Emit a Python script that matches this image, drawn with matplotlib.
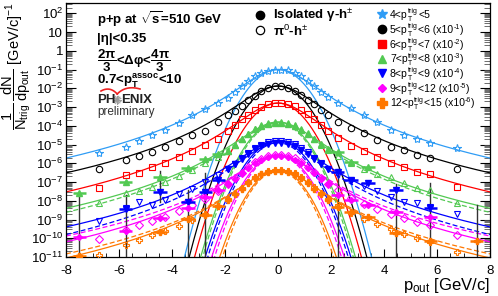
import numpy as np
import matplotlib
matplotlib.use("Agg")
import matplotlib.pyplot as plt
from matplotlib.ticker import LogLocator, FuncFormatter, MultipleLocator, NullFormatter

plt.rcParams['font.family'] = ['Liberation Sans', 'DejaVu Sans']
plt.rcParams['mathtext.fontset'] = 'custom'
plt.rcParams['mathtext.rm'] = 'Liberation Sans'
plt.rcParams['mathtext.it'] = 'Liberation Sans'
plt.rcParams['mathtext.bf'] = 'Liberation Sans:bold'
plt.rcParams['mathtext.sf'] = 'Liberation Sans'
plt.rcParams['axes.unicode_minus'] = False

# ---------------- data (log10 of 1/Ntrig dN/dpout, scaled) ----------------
trig_lo = ["4", "5", "6", "7", "8", "9", "12"]
trig_hi = ["5", "6", "7", "8", "9", "12", "15"]
scale_exp = ["", "-1", "-2", "-3", "-4", "-5", "-6"]

pout_pi0 = [-6.75, -5.75, -5.25, -4.75, -4.25, -3.75, -3.25, -2.75, -2.25, -1.875, -1.625,
            -1.375, -1.125, -0.875, -0.625, -0.375, -0.125, 0.125, 0.375, 0.625, 0.875,
            1.125, 1.375, 1.625, 1.875, 2.25, 2.75, 3.25, 3.75, 4.25, 4.75, 5.25, 5.75, 6.75]

pi0_4_5 = [-5.45, -5.13, -4.81, -4.49, -4.25, -3.85, -3.45, -3.10, -2.80, -2.50, -2.22, -1.90, -1.62, -1.35, -1.17, -1.06, -1.01,
           -1.00, -1.05, -1.16, -1.36, -1.62, -1.88, -2.22, -2.47, -2.79, -3.06, -3.43, -3.80, -4.23, -4.49, -4.71, -4.92, -5.19]
pi0_5_6 = [-6.31, -5.83, -5.61, -5.40, -5.13, -4.81, -4.49, -4.28, -3.78, -3.45, -3.20, -2.95, -2.65, -2.40, -2.17, -1.98, -1.89,
           -1.89, -1.97, -2.12, -2.35, -2.60, -2.85, -3.15, -3.45, -3.80, -4.12, -4.39, -4.76, -5.13, -5.29, -5.56, -5.72, -6.31]
pi0_6_7 = [-7.32, -6.63, -6.52, -6.20, -5.99, -5.67, -5.35, -5.05, -4.70, -4.30, -3.98, -3.65, -3.40, -3.16, -2.98, -2.85, -2.80,
           -2.79, -2.84, -2.97, -3.15, -3.38, -3.62, -3.95, -4.30, -4.65, -5.10, -5.35, -5.65, -5.99, -6.20, -6.47, -6.57, -7.27]
pi0_7_8 = [-8.12, -7.60, -7.50, -7.25, -6.98, -6.70, -6.35, -6.00, -5.65, -5.32, -5.02, -4.72, -4.42, -4.15, -3.98, -3.86, -3.81,
           -3.80, -3.85, -3.97, -4.16, -4.40, -4.70, -5.00, -5.30, -5.62, -6.00, -6.30, -6.55, -6.73, -7.05, -7.30, -7.45, -8.12]
pi0_8_9 = [-9.08, -8.40, -8.05, -8.20, -7.95, -7.65, -7.35, -7.00, -6.65, -6.32, -6.03, -5.72, -5.43, -5.17, -5.00, -4.87, -4.82,
           -4.81, -4.86, -4.98, -5.16, -5.42, -5.70, -6.00, -6.30, -6.60, -6.95, -7.20, -7.50, -7.80, -8.05, -8.12, -8.35, -8.70]
pi0_9_12 = [-10.04, -9.55, -9.30, -9.10, -8.85, -8.55, -8.25, -7.90, -7.50, -7.10, -6.80, -6.50, -6.20, -5.93, -5.75, -5.62, -5.57,
            -5.56, -5.61, -5.73, -5.92, -6.18, -6.48, -6.78, -7.08, -7.45, -7.85, -8.15, -8.45, -8.70, -8.90, -9.15, -9.30, -9.85]
pi0_12_15 = [-10.90, -10.35, -10.10, -9.85, -9.60, -9.35, -9.05, -8.70, -8.30, -7.92, -7.62, -7.32, -7.02, -6.75, -6.55, -6.42, -6.37,
             -6.36, -6.41, -6.53, -6.72, -6.98, -7.28, -7.58, -7.88, -8.25, -8.65, -8.95, -9.25, -9.50, -9.75, -10.00, -10.20, -10.75]

pout_iso = [-7.5, -5.75, -4.45, -3.4, -2.75, -2.25, -1.875, -1.625, -1.375, -1.125, -0.875, -0.625, -0.375, -0.125,
            0.125, 0.375, 0.625, 0.875, 1.125, 1.375, 1.625, 1.875, 2.25, 2.75, 3.4, 4.45, 5.75, 7.5]
pout_iso_halfwidth = [0.25, 0.25, 0.25, 0.25, 0.25, 0.25] + [0.0] * 16 + [0.25, 0.25, 0.25, 0.25, 0.25, 0.25]

nan = float('nan')
iso_7_8 = [-7.59, -7.00, -6.73, -6.25, -5.75, -5.50, -5.35, -5.00, -4.70, -4.43, -4.18, -4.00, -3.90, -3.86,
           -3.86, -3.91, -4.02, -4.20, -4.44, -4.70, -4.97, -5.25, -5.40, -5.93, -6.20, nan, nan, nan]
iso_8_9 = [nan, -8.44, -7.53, -8.07, -7.53, -6.90, -6.30, -6.02, -5.75, -5.50, -5.25, -5.07, -4.95, -4.90,
           -4.90, -4.95, -5.08, -5.27, -5.52, -5.78, -6.05, -6.30, -6.47, -6.89, -7.05, -7.43, -8.39, nan]
iso_9_12 = [-9.93, -9.60, -8.90, -8.39, -7.80, -7.40, -7.10, -6.82, -6.52, -6.25, -6.00, -5.80, -5.67, -5.62,
            -5.62, -5.67, -5.80, -6.00, -6.25, -6.53, -6.83, -7.12, -7.69, -7.96, -8.20, -8.60, -8.87, nan]
iso_12_15 = [-10.95, nan, -9.67, -8.97, -8.76, -8.30, -7.95, -7.65, -7.35, -7.05, -6.78, -6.58, -6.45, -6.40,
             -6.40, -6.45, -6.58, -6.78, -7.05, -7.35, -7.65, -7.95, -8.33, -8.60, -8.87, -9.72, -10.15, -10.15]

# large statistical error bars (log10 top / bottom) on isolated-photon tail points
err_x = [-7.5, -5.75, -4.45, -4.45, -3.4, -2.75, 2.25, 4.45, 5.75, 7.5]
err_top = [-7.75, -7.70, -6.40, -7.20, -7.43, -6.52, -6.30, -7.10, -7.05, -8.23]
err_bottom = [-12, -12, -7.20, -8.05, -12, -12, -12, -12, -12, -12]

# fit parameters: Kaplan (solid) and Gaussian for pi0-h, dashed for isolated gamma-h
kap_logA = [-1.00, -1.88, -2.79, -3.80, -4.81, -5.56, -6.36]
kap_c = [2.0, 2.0, 2.0, 2.0, 2.0, 2.0, 2.0]
kap_n = [3.11, 3.05, 3.12, 3.03, 3.02, 3.05, 3.09]
gau_sigma = [0.520, 0.517, 0.512, 0.507, 0.515, 0.500, 0.476]
iso_logA = [-3.85, -4.90, -5.60, -6.40]
iso_n = [3.14, 3.23, 2.82, 2.92]
iso_sigma = [0.495, 0.500, 0.480, 0.455]

colors = ['#2f9cf5', 'black', '#ff0000', '#52c952', '#0000ff', '#ff00ff', '#ff7700']
open_markers = ['*', 'o', 's', '^', 'v', 'D', 'P']
open_sizes = [6.0, 4.6, 4.6, 4.8, 4.8, 3.6, 5.0]
iso_markers = ['^', 'v', 'D', 'P']
iso_sizes = [4.2, 4.2, 3.0, 4.6]

pi0_sets = [pi0_4_5, pi0_5_6, pi0_6_7, pi0_7_8, pi0_8_9, pi0_9_12, pi0_12_15]
iso_sets = [iso_7_8, iso_8_9, iso_9_12, iso_12_15]

# ---------------- figure ----------------
W, H = 498, 296
fig = plt.figure(figsize=(W / 100, H / 100), dpi=100)
ax = fig.add_axes([66 / W, 1 - 257 / H, (490 - 66) / W, (257 - 3) / H])
ax.set_yscale('log')
ax.set_xlim(-8, 8)
ax.set_ylim(1e-11, 10 ** 2.55)

xf = np.linspace(-8, 8, 1601)


def kaplan(x, la, c, n):
    return 10 ** la * (1 + x ** 2 / c) ** (-n)


def gauss(x, la, s):
    return 10 ** la * np.exp(-x ** 2 / (2 * s ** 2))


for i in range(7):
    ax.plot(xf, kaplan(xf, kap_logA[i], kap_c[i], kap_n[i]), color=colors[i], lw=0.9, zorder=2)
    g = gauss(xf, kap_logA[i], gau_sigma[i])
    g[g < 1e-12] = np.nan
    ax.plot(xf, g, color=colors[i], lw=0.9, zorder=2)
for j in range(4):
    c = colors[j + 3]
    ax.plot(xf, kaplan(xf, iso_logA[j], 2.0, iso_n[j]), color=c, lw=0.9, ls=(0, (4, 2)), zorder=2)
    g = gauss(xf, iso_logA[j], iso_sigma[j])
    g[g < 1e-12] = np.nan
    ax.plot(xf, g, color=c, lw=0.9, ls=(0, (4, 2)), zorder=2)

# error lines
for xe, t, b in zip(err_x, err_top, err_bottom):
    ax.plot([xe, xe], [10 ** t, 10 ** b], color='#333333', lw=1.0, zorder=3)

# pi0-h open markers
for i in range(7):
    y = np.power(10.0, pi0_sets[i])
    ax.plot(pout_pi0, y, ls='none', marker=open_markers[i], ms=open_sizes[i],
            mfc='none', mec=colors[i], mew=0.8, zorder=4)

# isolated gamma-h filled markers
xi = np.array(pout_iso)
hw = np.array(pout_iso_halfwidth)
for j in range(4):
    y = np.power(10.0, np.array(iso_sets[j], dtype=float))
    c = colors[j + 3]
    m = hw > 0
    ax.errorbar(xi[m], y[m], xerr=hw[m], fmt='none', ecolor=c, elinewidth=1.8, capsize=0, zorder=5)
    ax.plot(xi, y, ls='none', marker=iso_markers[j], ms=iso_sizes[j], mfc=c, mec=c, zorder=5)

# ticks
ax.yaxis.set_major_locator(LogLocator(base=10, numticks=30))
ax.yaxis.set_minor_locator(LogLocator(base=10, subs=np.arange(2, 10), numticks=30))
ax.yaxis.set_minor_formatter(NullFormatter())


def yfmt(v, pos):
    e = int(round(np.log10(v)))
    if e == 0:
        return "1"
    if e == 1:
        return "10"
    return r"$10^{%d}$" % e


ax.yaxis.set_major_formatter(FuncFormatter(yfmt))
ax.xaxis.set_major_locator(MultipleLocator(2))
ax.xaxis.set_minor_locator(MultipleLocator(0.5))
ax.xaxis.set_major_formatter(FuncFormatter(lambda v, p: "%d" % v))
ax.tick_params(axis='y', which='major', direction='in', length=7.5, width=0.8, right=True, labelsize=9.5, pad=2)
ax.tick_params(axis='y', which='minor', direction='in', length=4, width=0.6, right=True, color='#555555')
ax.tick_params(axis='x', which='major', direction='in', length=6, width=0.8, top=False, labelsize=9.5, pad=6)
ax.tick_params(axis='x', which='minor', direction='in', length=3, width=0.6, top=False)
for s in ax.spines.values():
    s.set_linewidth(0.9)

# ---------------- overlay text in pixel coordinates ----------------
ov = fig.add_axes([0, 0, 1, 1])
ov.set_xlim(0, W)
ov.set_ylim(H, 0)
ov.axis('off')

ov.text(16, 2, r"$\dfrac{1}{N_{trig}}\,\dfrac{dN}{dp_{out}}$ [GeV/c]$^{-1}$", rotation=90,
        ha='center', va='top', fontsize=10.5)
ov.text(490, 290, r"p$_{out}$ [GeV/c]", ha='right', va='baseline', fontsize=12)

ov.text(97, 19, r"p+p at $\mathbf{\sqrt{s}}$=510 GeV", ha='left', va='center', fontsize=9.5, fontweight='bold')
ov.text(97, 39, "|η|<0.35", ha='left', va='center', fontsize=9.5, fontweight='bold')
ov.text(97, 61, r"$\mathbf{\dfrac{2\pi}{3}}$<Δφ<$\mathbf{\dfrac{4\pi}{3}}$", ha='left', va='center',
        fontsize=9.5, fontweight='bold')
ov.text(97, 81, r"0.7<$\mathbf{p_{T}^{assoc}}$<10", ha='left', va='center', fontsize=9.5, fontweight='bold')

# PHENIX logo
ov.text(97, 100, "PH", ha='left', va='center', fontsize=9.5, fontweight='bold', color='#222222')
ov.text(121.5, 100, "ENIX", ha='left', va='center', fontsize=9.5, fontweight='bold', color='#222222')
for a in np.linspace(0, np.pi, 9)[:-1]:
    ov.plot([117.2 + 4.0 * np.cos(a), 117.2 - 4.0 * np.cos(a)],
            [100 + 4.0 * np.sin(a), 100 - 4.0 * np.sin(a)], color='#9a9a9a', lw=0.7)
tt = np.linspace(0, 1, 30)
ov.plot((1 - tt) ** 2 * 101 + 2 * (1 - tt) * tt * 110 + tt ** 2 * 117.2,
        (1 - tt) ** 2 * 91 + 2 * (1 - tt) * tt * 86 + tt ** 2 * 94, color='#ee2222', lw=1.2)
ov.plot((1 - tt) ** 2 * 117.2 + 2 * (1 - tt) * tt * 126 + tt ** 2 * 140,
        (1 - tt) ** 2 * 94 + 2 * (1 - tt) * tt * 85 + tt ** 2 * 89, color='#ee2222', lw=1.2)
ov.text(97, 112, "preliminary", ha='left', va='center', fontsize=8.5, color='#333333')

# legend left
ov.plot([260], [15], marker='o', ms=6, color='black', ls='none')
ov.text(273, 15, r"Isolated γ-h$^{\pm}$", ha='left', va='center', fontsize=9.5, fontweight='bold')
ov.plot([260], [30], marker='o', ms=6, mfc='none', mec='black', mew=0.9, ls='none')
ov.text(273, 31, r"π$^{0}$-h$^{\pm}$", ha='left', va='center', fontsize=9.5, fontweight='bold')

# legend right, built piece by piece (p_T with stacked trig / T)
renderer = fig.canvas.get_renderer()


def put(x, y, s, fs):
    t = ov.text(x, y, s, ha='left', va='baseline', fontsize=fs)
    return x + t.get_window_extent(renderer=renderer).width


rows = [14, 29, 44, 58.5, 73, 88, 102.5]
leg_markers = ['*', 'o', 's', '^', 'v', 'D', 'P']
leg_sizes = [7, 6, 5.5, 6, 6, 4.2, 6.5]
FS, FSS = 7.5, 5.0
for k in range(7):
    ov.plot([382], [rows[k]], marker=leg_markers[k], ms=leg_sizes[k], color=colors[k], ls='none')
    yb = rows[k] + 4.0
    x = put(390, yb, trig_lo[k] + "<p", FS)
    x1 = put(x + 0.3, yb - 4.8, "trig", FSS)
    x2 = put(x + 0.3, yb + 2.7, "T", FSS)
    x = max(x1, x2) + 0.3
    if scale_exp[k]:
        x = put(x, yb, "<" + trig_hi[k] + " (x10", FS)
        x = put(x, yb - 4.3, scale_exp[k], FSS)
        put(x, yb, ")", FS)
    else:
        put(x, yb, "<" + trig_hi[k], FS)

fig.savefig("out.png", dpi=100)
